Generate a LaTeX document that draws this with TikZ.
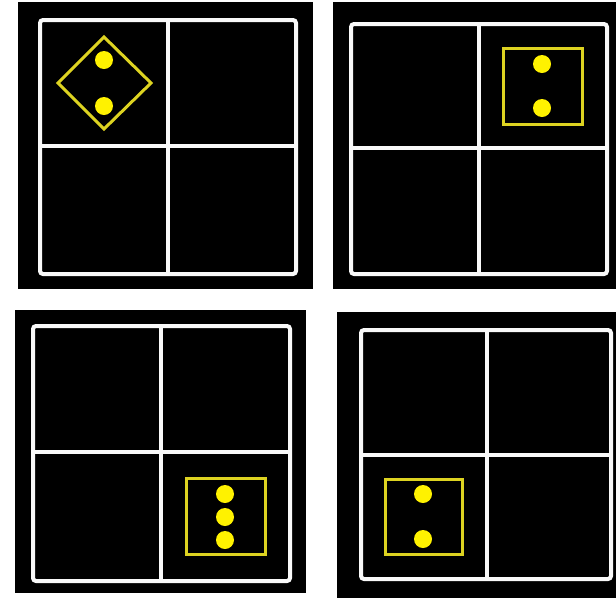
\documentclass[tikz,border=0pt]{standalone}
\usepackage{tikz}
\usetikzlibrary{positioning}

\begin{document}
\begin{tikzpicture}[x=1pt, y=-1pt,
      panel/.style={fill=black},
      gridline/.style={draw=white!95!gray, line width=4pt, rounded corners=3pt},
      frame/.style={draw=yellow!85!black, line width=3pt},
      pip/.style={circle, fill=yellow, inner sep=0pt, minimum size=18pt}]
      \useasboundingbox[fill=white] (0,0) rectangle (616,598);

      % four black panels
      \fill[panel] (18,2) rectangle (313,289);
      \fill[panel] (333,2) rectangle (616,289);
      \fill[panel] (15,310) rectangle (306,593);
      \fill[panel] (337,312) rectangle (616,598);

      % 2x2 grids (white)
      \draw[gridline] (40,20) rectangle (296,274);
      \draw[gridline] (168,20) -- (168,274);  \draw[gridline] (40,146) -- (296,146);
      \draw[gridline] (351,24) rectangle (607,274);
      \draw[gridline] (479,24) -- (479,274);  \draw[gridline] (351,148) -- (607,148);
      \draw[gridline] (33,326) rectangle (290,581);
      \draw[gridline] (161,326) -- (161,581); \draw[gridline] (33,452) -- (290,452);
      \draw[gridline] (361,330) rectangle (611,579);
      \draw[gridline] (487,330) -- (487,579); \draw[gridline] (361,455) -- (611,455);

      % Panel 1: diamond, two pips (top-left cell)
      \draw[frame] (104,37) -- (151,83) -- (104,129) -- (58,83) -- cycle;
      \node[pip] (a1) at (104,60) {};
      \node[pip] (a2) at (104,106) {};

      % Panel 2: square, two pips (top-right cell)
      \draw[frame] (503,48) rectangle (582,124);
      \node[pip] (b1) at (542,64) {};
      \node[pip] (b2) at (542,108) {};

      % Panel 3: square, three pips (bottom-right cell)
      \draw[frame] (186,478) rectangle (265,554);
      \foreach \y [count=\i] in {494,517,540}{
        \node[pip] (c\i) at (225,\y) {};
      }

      % Panel 4: square, two pips (bottom-left cell)
      \draw[frame] (385,479) rectangle (462,554);
      \node[pip] (d1) at (423,494) {};
      \node[pip] (d2) at (423,539) {};
    \end{tikzpicture}
\end{document}
